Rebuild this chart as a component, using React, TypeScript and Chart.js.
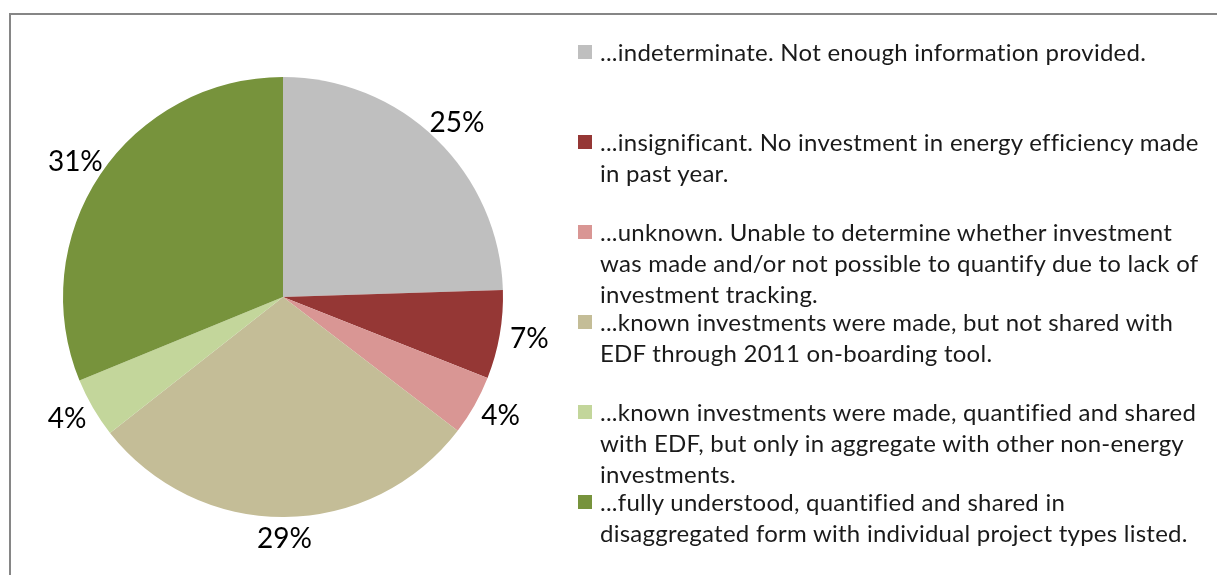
import React, { useEffect, useRef } from "react";
import { Chart, registerables } from "chart.js";

Chart.register(...registerables);

const categories: string[][] = [
  ["...indeterminate. Not enough information provided."],
  ["...insignificant. No investment in energy efficiency made", "in past year."],
  ["...unknown. Unable to determine whether investment", "was made and/or not possible to quantify due to lack of", "investment tracking."],
  ["...known investments were made, but not shared with", "EDF through 2011 on-boarding tool."],
  ["...known investments were made, quantified and shared", "with EDF, but only in aggregate with other non-energy", "investments."],
  ["...fully understood, quantified and shared in", "disaggregated form with individual project types listed."],
];
const values: number[] = [24.5, 6.5, 4.4, 29.0, 4.4, 31.2];
const percentLabels: string[] = ["25%", "7%", "4%", "29%", "4%", "31%"];
const colors: string[] = ["#BFBFBF", "#953735", "#D99694", "#C4BD97", "#C3D69B", "#77933C"];

const FONT = "Lato, 'Open Sans', sans-serif";

const labelPlugin = {
  id: "outerLabels",
  afterDatasetsDraw(chart: any) {
    const ctx = chart.ctx;
    const meta = chart.getDatasetMeta(0);
    ctx.save();
    ctx.font = `28px ${FONT}`;
    ctx.fillStyle = "#000000";
    ctx.textAlign = "center";
    ctx.textBaseline = "middle";
    meta.data.forEach((arc: any, i: number) => {
      const mid = (arc.startAngle + arc.endAngle) / 2;
      const x = arc.x + Math.cos(mid) * 250;
      const y = arc.y + Math.sin(mid) * 242;
      ctx.fillText(percentLabels[i], x, y);
    });
    ctx.restore();
  },
};

export default function App() {
  const ref = useRef<HTMLCanvasElement | null>(null);
  useEffect(() => {
    if (!ref.current) return;
    const chart = new Chart(ref.current, {
      type: "pie",
      data: {
        labels: categories.map((c) => c.join(" ")),
        datasets: [
          {
            data: values,
            backgroundColor: colors,
            borderWidth: 0,
          },
        ],
      },
      options: {
        animation: false,
        responsive: false,
        devicePixelRatio: 1,
        layout: { padding: { left: 63, right: 714, top: 77, bottom: 58 } },
        plugins: { legend: { display: false }, tooltip: { enabled: false } },
      },
      plugins: [labelPlugin],
    });
    return () => chart.destroy();
  }, []);

  return (
    <div
      style={{
        position: "absolute",
        left: 0,
        top: 0,
        width: 1217,
        height: 575,
        overflow: "hidden",
        background: "#ffffff",
        fontFamily: FONT,
      }}
    >
      <div
        style={{
          position: "absolute",
          left: 9,
          top: 13,
          width: 1400,
          height: 800,
          border: "2px solid #868686",
          boxSizing: "border-box",
        }}
      />
      <canvas
        ref={ref}
        width={1217}
        height={575}
        style={{ position: "absolute", left: 0, top: 0, width: 1217, height: 575 }}
      />
      {categories.map((lines, i) => (
        <div
          key={i}
          style={{
            position: "absolute",
            left: 578,
            top: 36 + i * 90,
            width: 640,
            fontSize: 24,
            letterSpacing: "0.25px",
            lineHeight: "31px",
            color: "#1a1a1a",
          }}
        >
          <div
            style={{
              position: "absolute",
              left: 0,
              top: 9,
              width: 14,
              height: 14,
              background: colors[i],
            }}
          />
          {lines.map((ln, j) => (
            <div key={j} style={{ marginLeft: 22, whiteSpace: "nowrap" }}>
              {ln}
            </div>
          ))}
        </div>
      ))}
    </div>
  );
}
